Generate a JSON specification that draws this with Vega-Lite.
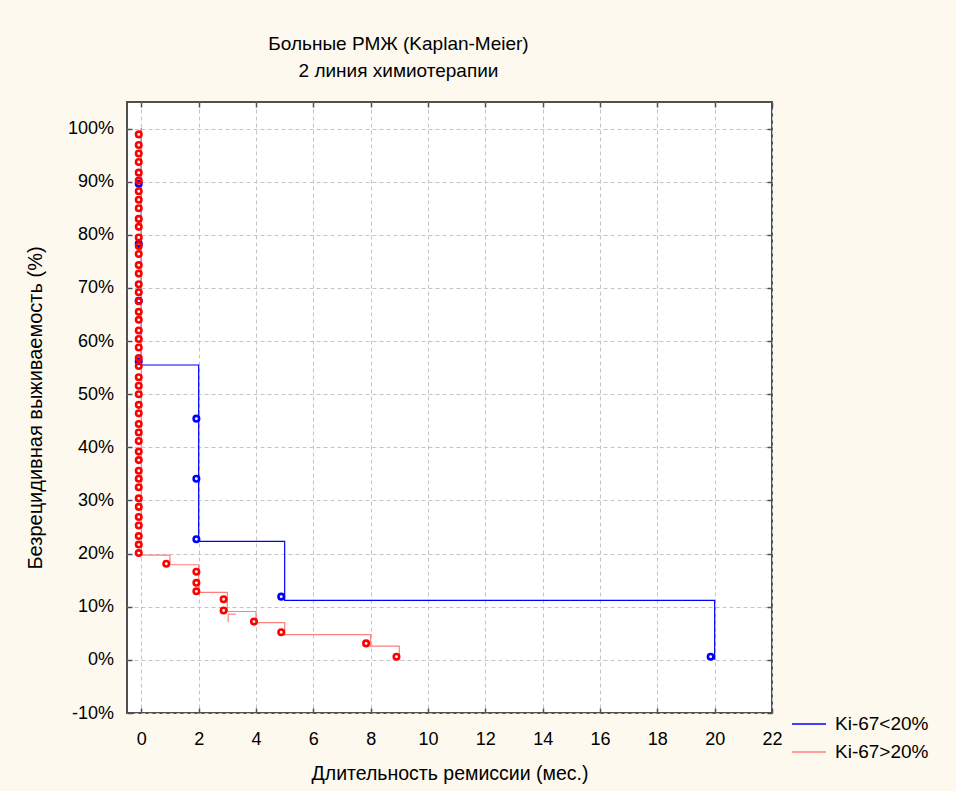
{
  "$schema": "https://vega.github.io/schema/vega-lite/v6.json",
  "autosize": "none",
  "width": 645,
  "height": 611,
  "padding": {"left": 127, "top": 102, "right": 184, "bottom": 78},
  "background": "#fdf9ee",
  "config": {
    "view": {"fill": "white", "stroke": "#505050", "strokeWidth": 2},
    "font": "Liberation Sans"
  },
  "title": {
    "text": ["Больные РМЖ (Kaplan-Meier)", "2 линия химиотерапии"],
    "fontSize": 19,
    "fontWeight": "normal",
    "font": "Liberation Sans",
    "color": "#000000",
    "lineHeight": 27,
    "offset": 20,
    "anchor": "middle",
    "dx": -51
  },
  "datasets": {
    "steps": [
      {"series": "Ki-67<20%", "time": 0, "surv": 100},
      {"series": "Ki-67<20%", "time": 0, "surv": 55.5},
      {"series": "Ki-67<20%", "time": 2, "surv": 22.3},
      {"series": "Ki-67<20%", "time": 5, "surv": 11.2},
      {"series": "Ki-67<20%", "time": 20, "surv": 0},
      {"series": "Ki-67>20%", "time": 0, "surv": 100},
      {"series": "Ki-67>20%", "time": 0, "surv": 19.7},
      {"series": "Ki-67>20%", "time": 1, "surv": 17.9},
      {"series": "Ki-67>20%", "time": 2, "surv": 12.7},
      {"series": "Ki-67>20%", "time": 3, "surv": 9.1},
      {"series": "Ki-67>20%", "time": 4, "surv": 7.0},
      {"series": "Ki-67>20%", "time": 5, "surv": 4.75},
      {"series": "Ki-67>20%", "time": 8, "surv": 2.6},
      {"series": "Ki-67>20%", "time": 9, "surv": 0}
    ],
    "censor": [
      {"series": "Ki-67>20%", "t1": 3.03, "t2": 3.3, "s1": 8.6, "s2": 8.6},
      {"series": "Ki-67>20%", "t1": 3.03, "t2": 3.03, "s1": 8.6, "s2": 7.1}
    ],
    "events": [
      {"series": "Ki-67<20%", "time": -0.09, "surv": 89.6},
      {"series": "Ki-67<20%", "time": -0.09, "surv": 78.3},
      {"series": "Ki-67<20%", "time": -0.09, "surv": 67.6},
      {"series": "Ki-67<20%", "time": -0.09, "surv": 56.2},
      {"series": "Ki-67<20%", "time": 1.92, "surv": 45.4},
      {"series": "Ki-67<20%", "time": 1.92, "surv": 34.1},
      {"series": "Ki-67<20%", "time": 1.92, "surv": 22.7},
      {"series": "Ki-67<20%", "time": 4.88, "surv": 11.9},
      {"series": "Ki-67<20%", "time": 19.86, "surv": 0.6},
      {"series": "Ki-67>20%", "time": -0.09, "surv": 98.9},
      {"series": "Ki-67>20%", "time": -0.09, "surv": 96.9},
      {"series": "Ki-67>20%", "time": -0.09, "surv": 95.3},
      {"series": "Ki-67>20%", "time": -0.09, "surv": 93.7},
      {"series": "Ki-67>20%", "time": -0.09, "surv": 91.7},
      {"series": "Ki-67>20%", "time": -0.09, "surv": 90.2},
      {"series": "Ki-67>20%", "time": -0.09, "surv": 88.2},
      {"series": "Ki-67>20%", "time": -0.09, "surv": 86.6},
      {"series": "Ki-67>20%", "time": -0.09, "surv": 85.0},
      {"series": "Ki-67>20%", "time": -0.09, "surv": 83.0},
      {"series": "Ki-67>20%", "time": -0.09, "surv": 81.5},
      {"series": "Ki-67>20%", "time": -0.09, "surv": 79.5},
      {"series": "Ki-67>20%", "time": -0.09, "surv": 77.9},
      {"series": "Ki-67>20%", "time": -0.09, "surv": 76.4},
      {"series": "Ki-67>20%", "time": -0.09, "surv": 74.3},
      {"series": "Ki-67>20%", "time": -0.09, "surv": 72.7},
      {"series": "Ki-67>20%", "time": -0.09, "surv": 70.7},
      {"series": "Ki-67>20%", "time": -0.09, "surv": 69.2},
      {"series": "Ki-67>20%", "time": -0.09, "surv": 67.5},
      {"series": "Ki-67>20%", "time": -0.09, "surv": 65.5},
      {"series": "Ki-67>20%", "time": -0.09, "surv": 64.0},
      {"series": "Ki-67>20%", "time": -0.09, "surv": 62.0},
      {"series": "Ki-67>20%", "time": -0.09, "surv": 60.4},
      {"series": "Ki-67>20%", "time": -0.09, "surv": 58.8},
      {"series": "Ki-67>20%", "time": -0.09, "surv": 56.8},
      {"series": "Ki-67>20%", "time": -0.09, "surv": 55.3},
      {"series": "Ki-67>20%", "time": -0.09, "surv": 53.2},
      {"series": "Ki-67>20%", "time": -0.09, "surv": 51.6},
      {"series": "Ki-67>20%", "time": -0.09, "surv": 50.0},
      {"series": "Ki-67>20%", "time": -0.09, "surv": 48.0},
      {"series": "Ki-67>20%", "time": -0.09, "surv": 46.4},
      {"series": "Ki-67>20%", "time": -0.09, "surv": 44.4},
      {"series": "Ki-67>20%", "time": -0.09, "surv": 42.8},
      {"series": "Ki-67>20%", "time": -0.09, "surv": 41.2},
      {"series": "Ki-67>20%", "time": -0.09, "surv": 39.2},
      {"series": "Ki-67>20%", "time": -0.09, "surv": 37.6},
      {"series": "Ki-67>20%", "time": -0.09, "surv": 35.6},
      {"series": "Ki-67>20%", "time": -0.09, "surv": 34.1},
      {"series": "Ki-67>20%", "time": -0.09, "surv": 32.5},
      {"series": "Ki-67>20%", "time": -0.09, "surv": 30.4},
      {"series": "Ki-67>20%", "time": -0.09, "surv": 28.8},
      {"series": "Ki-67>20%", "time": -0.09, "surv": 26.9},
      {"series": "Ki-67>20%", "time": -0.09, "surv": 25.3},
      {"series": "Ki-67>20%", "time": -0.09, "surv": 23.3},
      {"series": "Ki-67>20%", "time": -0.09, "surv": 21.7},
      {"series": "Ki-67>20%", "time": -0.09, "surv": 20.1},
      {"series": "Ki-67>20%", "time": 0.87, "surv": 18.1},
      {"series": "Ki-67>20%", "time": 1.92, "surv": 16.6},
      {"series": "Ki-67>20%", "time": 1.92, "surv": 14.5},
      {"series": "Ki-67>20%", "time": 1.92, "surv": 12.9},
      {"series": "Ki-67>20%", "time": 2.87, "surv": 11.4},
      {"series": "Ki-67>20%", "time": 2.87, "surv": 9.3},
      {"series": "Ki-67>20%", "time": 3.93, "surv": 7.2},
      {"series": "Ki-67>20%", "time": 4.88, "surv": 5.2},
      {"series": "Ki-67>20%", "time": 7.84, "surv": 3.1},
      {"series": "Ki-67>20%", "time": 8.9, "surv": 0.6}
    ]
  },
  "resolve": {"axis": {"x": "independent", "y": "independent"}},
  "layer": [
    {
      "data": {"name": "steps"},
      "mark": {"type": "line", "interpolate": "step-after", "strokeWidth": 1.2},
      "encoding": {
        "x": {
          "field": "time", "type": "quantitative",
          "scale": {"domain": [-0.5, 22], "nice": false, "zero": false},
          "axis": {
            "orient": "bottom",
            "values": [0, 2, 4, 6, 8, 10, 12, 14, 16, 18, 20, 22],
            "title": "Длительность ремиссии (мес.)",
            "titleFontSize": 19.5, "titleFontWeight": "normal", "titleColor": "#000",
            "titleFont": "Liberation Sans", "titlePadding": 16,
            "labelFontSize": 18, "labelColor": "#000", "labelFont": "Liberation Sans",
            "labelPadding": 22, "labelFlush": false,
            "tickSize": -5, "tickColor": "#505050", "tickWidth": 1.5,
            "domain": false,
            "grid": true, "gridDash": [4, 3], "gridColor": "#c4c4c4", "gridWidth": 1
          }
        },
        "y": {
          "field": "surv", "type": "quantitative",
          "scale": {"domain": [-10, 105], "nice": false, "zero": false},
          "axis": {
            "orient": "left",
            "values": [-10, 0, 10, 20, 30, 40, 50, 60, 70, 80, 90, 100],
            "labelExpr": "datum.value + '%'",
            "title": "Безрецидивная выживаемость  (%)",
            "titleFontSize": 20, "titleFontWeight": "normal", "titleColor": "#000",
            "titleFont": "Liberation Sans", "titlePadding": 22,
            "labelFontSize": 18, "labelColor": "#000", "labelFont": "Liberation Sans",
            "labelPadding": 18.5, "labelFlush": false,
            "tickSize": -5, "tickColor": "#505050", "tickWidth": 1.5,
            "domain": false,
            "grid": true, "gridDash": [4, 3], "gridColor": "#c4c4c4", "gridWidth": 1
          }
        },
        "color": {
          "field": "series", "type": "nominal",
          "scale": {"domain": ["Ki-67<20%", "Ki-67>20%"], "range": ["#0000ff", "#ff7f7f"]},
          "legend": {
            "title": null, "orient": "none", "legendX": 664, "legendY": 604,
            "symbolType": "stroke", "symbolSize": 1156, "symbolStrokeWidth": 1.5,
            "labelFontSize": 19, "labelFont": "Liberation Sans", "labelColor": "#000",
            "labelOffset": 8, "rowPadding": -8
          }
        },
        "detail": {"field": "series"}
      }
    },
    {
      "data": {"name": "censor"},
      "mark": {"type": "rule", "strokeWidth": 1.2, "color": "#ff7f7f"},
      "encoding": {
        "x": {"field": "t1", "type": "quantitative", "axis": {"orient": "top", "values": [0, 2, 4, 6, 8, 10, 12, 14, 16, 18, 20, 22], "labels": false, "title": null, "grid": false, "domain": false, "tickSize": -5, "tickColor": "#505050", "tickWidth": 1.5}},
        "x2": {"field": "t2"},
        "y": {"field": "s1", "type": "quantitative", "axis": {"orient": "right", "values": [-10, 0, 10, 20, 30, 40, 50, 60, 70, 80, 90, 100], "labels": false, "title": null, "grid": false, "domain": false, "tickSize": -5, "tickColor": "#505050", "tickWidth": 1.5}},
        "y2": {"field": "s2"}
      }
    },
    {
      "data": {"name": "events"},
      "mark": {"type": "point", "shape": "circle", "filled": false, "size": 30, "strokeWidth": 2.6, "opacity": 1},
      "encoding": {
        "x": {"field": "time", "type": "quantitative", "axis": null},
        "y": {"field": "surv", "type": "quantitative", "axis": null},
        "stroke": {
          "field": "series", "type": "nominal",
          "scale": {"domain": ["Ki-67<20%", "Ki-67>20%"], "range": ["#0000ff", "#ff0000"]},
          "legend": null
        }
      }
    }
  ]
}
